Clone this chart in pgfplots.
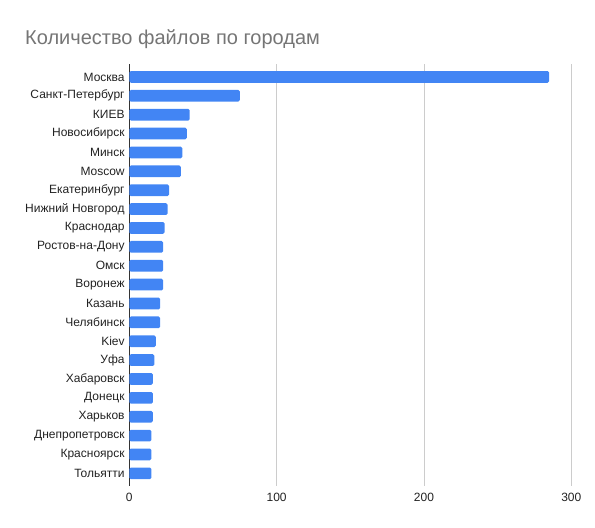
\documentclass[border=0pt]{standalone}
\usepackage{fontspec}
\setmainfont{Liberation Sans}
\usepackage{pgfplots}
\pgfplotsset{compat=1.18}

\definecolor{barblue}{HTML}{4285F4}
\definecolor{titlegray}{HTML}{757575}
\definecolor{labelgray}{HTML}{222222}
\definecolor{gridgray}{HTML}{CCCCCC}

\begin{document}
\begin{tikzpicture}
\useasboundingbox (0,0) rectangle (595bp,528bp);
\node[anchor=base west, font=\fontsize{20bp}{24bp}\selectfont, text=titlegray, inner sep=0pt]
  at (25bp,483bp) {Количество файлов по городам};
\begin{axis}[
    at={(129.3bp,42bp)}, anchor=south west,
    scale only axis,
    width=442bp, height=421.7bp,
    xbar, bar width=11.7bp,
    xmin=0, xmax=300,
    ymin=-0.67, ymax=21.67,
    y dir=reverse,
    axis line style={draw=none},
    major tick length=0pt,
    xtick={100,200,300},
    extra x ticks={0},
    extra x tick style={grid=major, major grid style={draw=black!80, line width=1bp}},
    xmajorgrids=true,
    major grid style={draw=gridgray, line width=0.8bp},
    ytick={0,...,21},
    yticklabels={Москва,Санкт-Петербург,КИЕВ,Новосибирск,Минск,Moscow,Екатеринбург,Нижний Новгород,Краснодар,Ростов-на-Дону,Омск,Воронеж,Казань,Челябинск,Kiev,Уфа,Хабаровск,Донецк,Харьков,Днепропетровск,Красноярск,Тольятти},
    yticklabel style={font=\fontsize{12bp}{14bp}\selectfont, text=labelgray, inner sep=0pt, xshift=-4.5bp},
    xticklabel style={font=\fontsize{12bp}{14bp}\selectfont, text=labelgray, inner sep=0pt, yshift=-7bp},
    /pgf/number format/assume math mode=true,
]
\addplot[fill=barblue, draw=none, rounded corners=1.5bp] coordinates {
    (285,0) (75,1) (41,2) (39,3) (36,4) (35,5) (27,6) (26,7) (24,8) (23,9) (23,10)
    (23,11) (21,12) (21,13) (18,14) (17,15) (16,16) (16,17) (16,18) (15,19) (15,20) (15,21)
};
\end{axis}
\end{tikzpicture}
\end{document}
